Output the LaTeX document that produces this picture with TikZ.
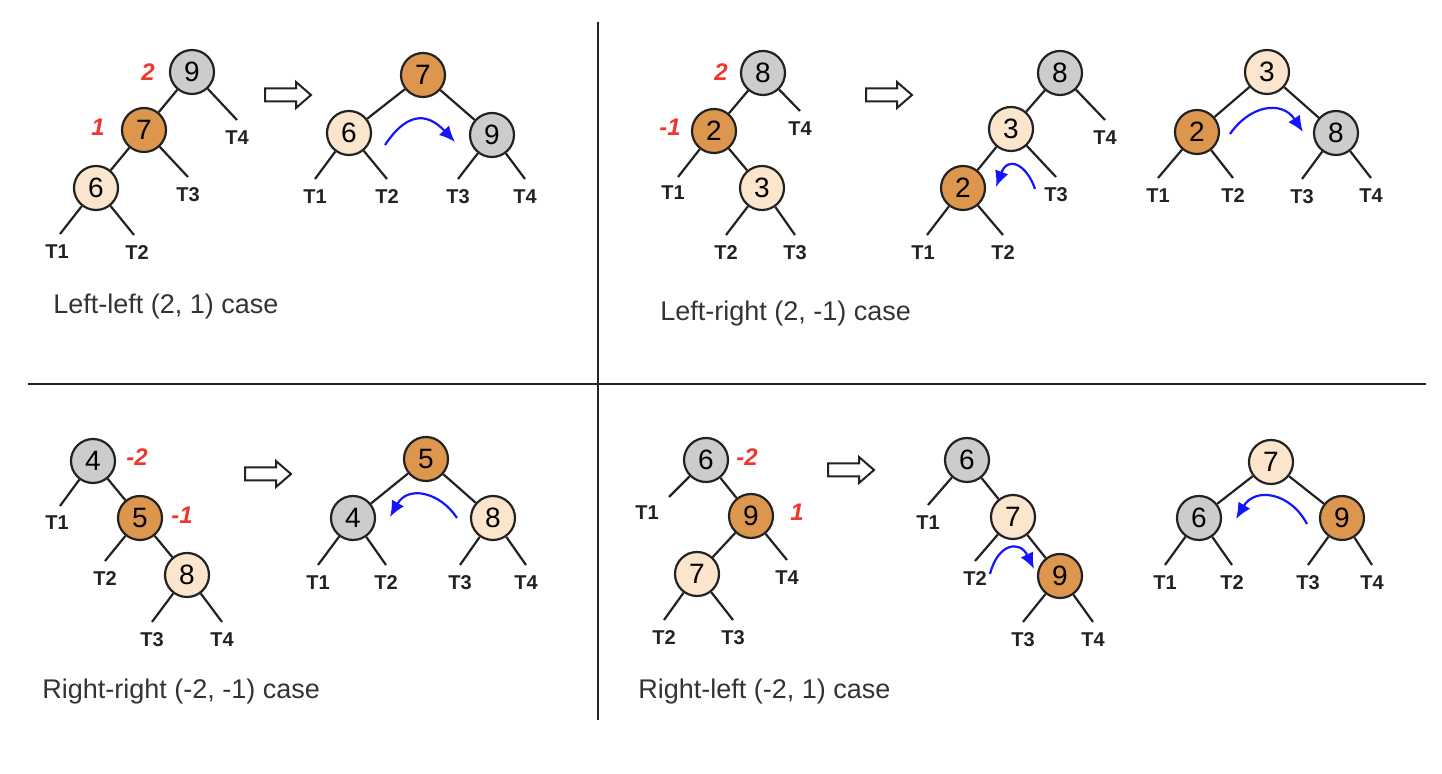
\documentclass[tikz,border=0pt]{standalone}
\usepackage{fontspec}
\setmainfont{Liberation Sans}
\usetikzlibrary{arrows.meta,calc}
\definecolor{nodegray}{RGB}{204,204,204}
\definecolor{nodeorange}{RGB}{221,150,78}
\definecolor{nodelight}{RGB}{252,229,205}
\definecolor{balred}{RGB}{236,56,46}
\definecolor{rotblue}{RGB}{20,20,255}
\definecolor{inkc}{RGB}{34,34,34}
\definecolor{captc}{RGB}{51,51,51}
\tikzset{
 tnode/.style={circle,draw=inkc,line width=1.1pt,minimum size=22pt,inner sep=0pt,font=\fontsize{14}{14}\selectfont},
 gnode/.style={tnode,fill=nodegray},
 onode/.style={tnode,fill=nodeorange},
 lnode/.style={tnode,fill=nodelight},
 edge/.style={draw=inkc,line width=1.1pt},
 leaflbl/.style={inner sep=0pt,font=\fontsize{10}{10}\selectfont\bfseries,text=inkc},
 bal/.style={inner sep=0pt,text=balred,font=\fontsize{12}{12}\selectfont\bfseries\itshape},
 caption/.style={anchor=west,inner sep=0pt,text=captc,font=\fontsize{13.5}{13.5}\selectfont},
 rot/.style={draw=rotblue,line width=1.1pt,-{Latex[length=8pt,width=7pt]}},
 hollow/.style={draw=inkc,line width=1pt,fill=white},
 divider/.style={draw=inkc,line width=1.2pt}
}
\newcommand\mkleaf[4]{\node[leaflbl] (#2) at (#3) {#4}; \coordinate (#2e) at ($(#2)+(0,-18)$); \draw[edge] (#1) -- (#2e);}
\newcommand\mkleafo[5]{\node[leaflbl] (#2) at (#3) {#4}; \coordinate (#2e) at ($(#2)+(#5)$); \draw[edge] (#1) -- (#2e);}
\newcommand\hollowarrow[1]{\draw[hollow,shift={(#1)}] (-23,-6.5) -- (8,-6.5) -- (8,-13) -- (23,0) -- (8,13) -- (8,6.5) -- (-23,6.5) -- cycle;}
\begin{document}
\begin{tikzpicture}[x=0.5pt,y=-0.5pt]
\useasboundingbox (0,0) rectangle (1442,774);
% dividers
\draw[divider] (598,22) -- (598,720);
\draw[divider] (28,384) -- (1426,384);

% ===== Q1: Left-left =====
\node[gnode] (a9) at (192,72) {9};
\node[onode] (a7) at (144,130) {7};
\node[lnode] (a6) at (96,188) {6};
\draw[edge] (a9) -- (a7); \draw[edge] (a7) -- (a6);
\mkleaf{a9}{aT4}{237,138}{T4}
\mkleaf{a7}{aT3}{188,195}{T3}
\mkleafo{a6}{aT1}{57,252}{T1}{3,-18}
\mkleafo{a6}{aT2}{137,253}{T2}{-3,-18}
\node[bal] (ab2) at (148,72) {2};
\node[bal] (ab1) at (98,127) {1};
\hollowarrow{288,95}
\node[onode] (b7) at (423,75) {7};
\node[lnode] (b6) at (349,133) {6};
\node[gnode] (b9) at (492,135) {9};
\draw[edge] (b7) -- (b6); \draw[edge] (b7) -- (b9);
\mkleaf{b6}{bT1}{315,197}{T1}
\mkleaf{b6}{bT2}{387,197}{T2}
\mkleaf{b9}{bT3}{458,197}{T3}
\mkleaf{b9}{bT4}{525,197}{T4}
\coordinate (bs) at (385,145); \coordinate (bt) at (455,142);
\draw[rot] (bs) .. controls (405,115) and (425,110) .. (bt);
\node[caption] (cap1) at (53,307) {Left-left (2, 1) case};

% ===== Q2: Left-right =====
\node[gnode] (c8) at (763,73) {8};
\node[onode] (c2) at (714,131) {2};
\node[lnode] (c3) at (762,188) {3};
\draw[edge] (c8) -- (c2); \draw[edge] (c2) -- (c3);
\mkleaf{c8}{cT4}{800,129}{T4}
\mkleafo{c2}{cT1}{673,193}{T1}{5,-16}
\mkleaf{c3}{cT2}{726,253}{T2}
\mkleaf{c3}{cT3}{795,253}{T3}
\node[bal] (cb2) at (721,72) {2};
\node[bal] (cb1) at (670,127) {-1};
\hollowarrow{889,95}
\node[gnode] (d8) at (1060,73) {8};
\node[lnode] (d3) at (1011,129) {3};
\node[onode] (d2) at (963,188) {2};
\draw[edge] (d8) -- (d3); \draw[edge] (d3) -- (d2);
\mkleaf{d8}{dT4}{1105,138}{T4}
\mkleaf{d3}{dT3}{1056,195}{T3}
\mkleafo{d2}{dT1}{923,253}{T1}{4,-18}
\mkleaf{d2}{dT2}{1003,253}{T2}
\coordinate (ds) at (1035,189); \coordinate (dt) at (996,187);
\draw[rot] (ds) .. controls (1027,165) and (1008,155) .. (dt);
\node[lnode] (e3) at (1267,72) {3};
\node[onode] (e2) at (1197,132) {2};
\node[gnode] (e8) at (1336,133) {8};
\draw[edge] (e3) -- (e2); \draw[edge] (e3) -- (e8);
\mkleaf{e2}{eT1}{1158,196}{T1}
\mkleaf{e2}{eT2}{1233,196}{T2}
\mkleaf{e8}{eT3}{1302,197}{T3}
\mkleaf{e8}{eT4}{1371,196}{T4}
\coordinate (es) at (1230,134); \coordinate (et) at (1303,132);
\draw[rot] (es) .. controls (1250,105) and (1282,100) .. (et);
\node[caption] (cap2) at (660,314) {Left-right (2, -1) case};

% ===== Q3: Right-right =====
\node[gnode] (f4) at (93,461) {4};
\node[onode] (f5) at (140,518) {5};
\node[lnode] (f8) at (187,575) {8};
\draw[edge] (f4) -- (f5); \draw[edge] (f5) -- (f8);
\mkleafo{f4}{fT1}{57,523}{T1}{3,-17}
\mkleaf{f5}{fT2}{105,579}{T2}
\mkleaf{f8}{fT3}{152,640}{T3}
\mkleaf{f8}{fT4}{222,640}{T4}
\node[bal] (fb2) at (137,457) {-2};
\node[bal] (fb1) at (182,515) {-1};
\hollowarrow{268,474}
\node[onode] (g5) at (426,459) {5};
\node[gnode] (g4) at (353,518) {4};
\node[lnode] (g8) at (493,518) {8};
\draw[edge] (g5) -- (g4); \draw[edge] (g5) -- (g8);
\mkleaf{g4}{gT1}{318,583}{T1}
\mkleaf{g4}{gT2}{386,583}{T2}
\mkleaf{g8}{gT3}{460,583}{T3}
\mkleaf{g8}{gT4}{526,583}{T4}
\coordinate (gs) at (457,518); \coordinate (gt) at (390,517);
\draw[rot] (gs) .. controls (440,492) and (408,485) .. (gt);
\node[caption] (cap3) at (42,692) {Right-right (-2, -1) case};

% ===== Q4: Right-left =====
\node[gnode] (h6) at (706,460) {6};
\node[onode] (h9) at (751,516) {9};
\node[lnode] (h7) at (697,574) {7};
\draw[edge] (h6) -- (h9); \draw[edge] (h9) -- (h7);
\mkleafo{h6}{hT1}{647,513}{T1}{22,-16}
\mkleaf{h9}{hT4}{787,578}{T4}
\mkleaf{h7}{hT2}{664,638}{T2}
\mkleaf{h7}{hT3}{733,638}{T3}
\node[bal] (hb2) at (747,457) {-2};
\node[bal] (hb1) at (797,512) {1};
\hollowarrow{851,470}
\node[gnode] (i6) at (967,460) {6};
\node[lnode] (i7) at (1013,517) {7};
\node[onode] (i9) at (1060,576) {9};
\draw[edge] (i6) -- (i7); \draw[edge] (i7) -- (i9);
\mkleaf{i6}{iT1}{928,523}{T1}
\mkleaf{i7}{iT2}{975,579}{T2}
\mkleaf{i9}{iT3}{1023,640}{T3}
\mkleaf{i9}{iT4}{1093,640}{T4}
\coordinate (is) at (990,574); \coordinate (it) at (1034,569);
\draw[rot] (is) .. controls (998,543) and (1020,540) .. (it);
\node[lnode] (j7) at (1271,462) {7};
\node[gnode] (j6) at (1199,518) {6};
\node[onode] (j9) at (1342,518) {9};
\draw[edge] (j7) -- (j6); \draw[edge] (j7) -- (j9);
\mkleaf{j6}{jT1}{1165,583}{T1}
\mkleaf{j6}{jT2}{1232,583}{T2}
\mkleaf{j9}{jT3}{1308,583}{T3}
\mkleaf{j9}{jT4}{1372,583}{T4}
\coordinate (js) at (1307,524); \coordinate (jt) at (1236,519);
\draw[rot] (js) .. controls (1290,492) and (1255,487) .. (jt);
\node[caption] (cap4) at (638,692) {Right-left (-2, 1) case};
\end{tikzpicture}
\end{document}
